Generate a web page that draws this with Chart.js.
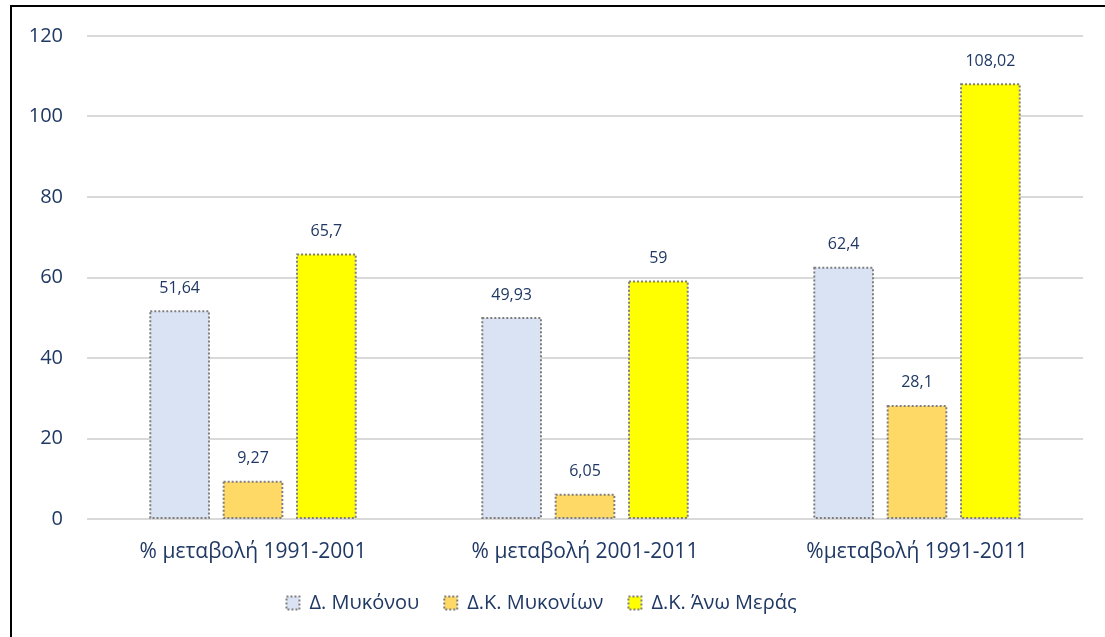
<!DOCTYPE html>
<html>
<head>
<meta charset="utf-8">
<script src="https://cdn.jsdelivr.net/npm/chart.js@4"></script>
<style>
  html, body { margin: 0; padding: 0; background: #fff; }
  #wrap { position: relative; width: 1105px; height: 637px; overflow: hidden; }
  #frame { position: absolute; left: 10px; top: 5px; width: 1200px; height: 700px; border: 2px solid #000; box-sizing: border-box; }
  #grafica { position: absolute; left: 0; top: 0; }
</style>
</head>
<body>
<div id="wrap">
  <div id="frame"></div>
  <canvas id="grafica" width="1105" height="637"></canvas>
</div>
<script>
// ── Datos ─────────────────────────────────────────────────────
const categorias = ['% μεταβολή 1991-2001', '% μεταβολή 2001-2011', '%μεταβολή 1991-2011'];
const nombresSeries = ['Δ. Μυκόνου', 'Δ.Κ. Μυκονίων', 'Δ.Κ. Άνω Μεράς'];
const dimosMykonou = [51.64, 49.93, 62.4];
const dkMykonion   = [9.27, 6.05, 28.1];
const dkAnoMeras   = [65.7, 59, 108.02];
const coloresSeries = ['#DAE3F3', '#FFD966', '#FFFF00'];
const ticksY = [0, 20, 40, 60, 80, 100, 120];

const TEXTO = '#203864';
const BORDE = '#7F7F7F';
const FUENTE = '"Open Sans", "Noto Sans", sans-serif';

// ── Plugin: bordes punteados + etiquetas ─────────────────────
const punteadoYEtiquetas = {
    id: 'punteadoYEtiquetas',
    afterDatasetsDraw(chart) {
        const ctx = chart.ctx;
        chart.data.datasets.forEach((ds, i) => {
            const meta = chart.getDatasetMeta(i);
            meta.data.forEach((bar, j) => {
                const { x, y, base, width } = bar.getProps(['x', 'y', 'base', 'width'], true);
                ctx.save();
                ctx.strokeStyle = BORDE;
                ctx.lineWidth = 2;
                ctx.setLineDash([2, 2]);
                ctx.strokeRect(x - width / 2, y, width, base - y);
                ctx.restore();

                ctx.save();
                ctx.fillStyle = TEXTO;
                ctx.font = '16px ' + FUENTE;
                ctx.textAlign = 'center';
                ctx.textBaseline = 'middle';
                ctx.fillText(String(ds.data[j]).replace('.', ','), x, y - 23);
                ctx.restore();
            });
        });
    }
};

const series = [dimosMykonou, dkMykonion, dkAnoMeras];

new Chart(document.getElementById('grafica'), {
    type: 'bar',
    data: {
        labels: categorias,
        datasets: series.map((valores, i) => ({
            label: nombresSeries[i],
            data: valores,
            backgroundColor: coloresSeries[i],
            borderWidth: 0,
            categoryPercentage: 0.663,
            barPercentage: 0.8,
        }))
    },
    options: {
        responsive: false,
        animation: false,
        layout: { padding: { top: 35, right: 22, bottom: 14, left: 0 } },
        plugins: {
            tooltip: { enabled: false },
            legend: {
                position: 'bottom',
                labels: {
                    color: TEXTO,
                    font: { family: FUENTE, size: 20 },
                    boxWidth: 13,
                    boxHeight: 13,
                    padding: 25,
                    generateLabels: chart => chart.data.datasets.map((ds, i) => ({
                        text: ds.label,
                        fillStyle: ds.backgroundColor,
                        strokeStyle: BORDE,
                        lineWidth: 2,
                        lineDash: [2, 2],
                        fontColor: TEXTO,
                        datasetIndex: i,
                        hidden: false,
                    }))
                }
            }
        },
        scales: {
            x: {
                grid: { display: false },
                border: { display: false },
                ticks: { color: TEXTO, font: { family: FUENTE, size: 21 }, padding: 12 },
                afterFit: s => { s.height = 49; }
            },
            y: {
                min: 0,
                max: 120,
                afterBuildTicks: s => { s.ticks = ticksY.map(v => ({ value: v })); },
                grid: { color: '#D9D9D9', lineWidth: 2, drawTicks: false },
                border: { display: false },
                ticks: { color: TEXTO, font: { family: FUENTE, size: 20 }, padding: 24 },
                afterFit: s => { s.width = 87; }
            }
        }
    },
    plugins: [punteadoYEtiquetas]
});
</script>
</body>
</html>
